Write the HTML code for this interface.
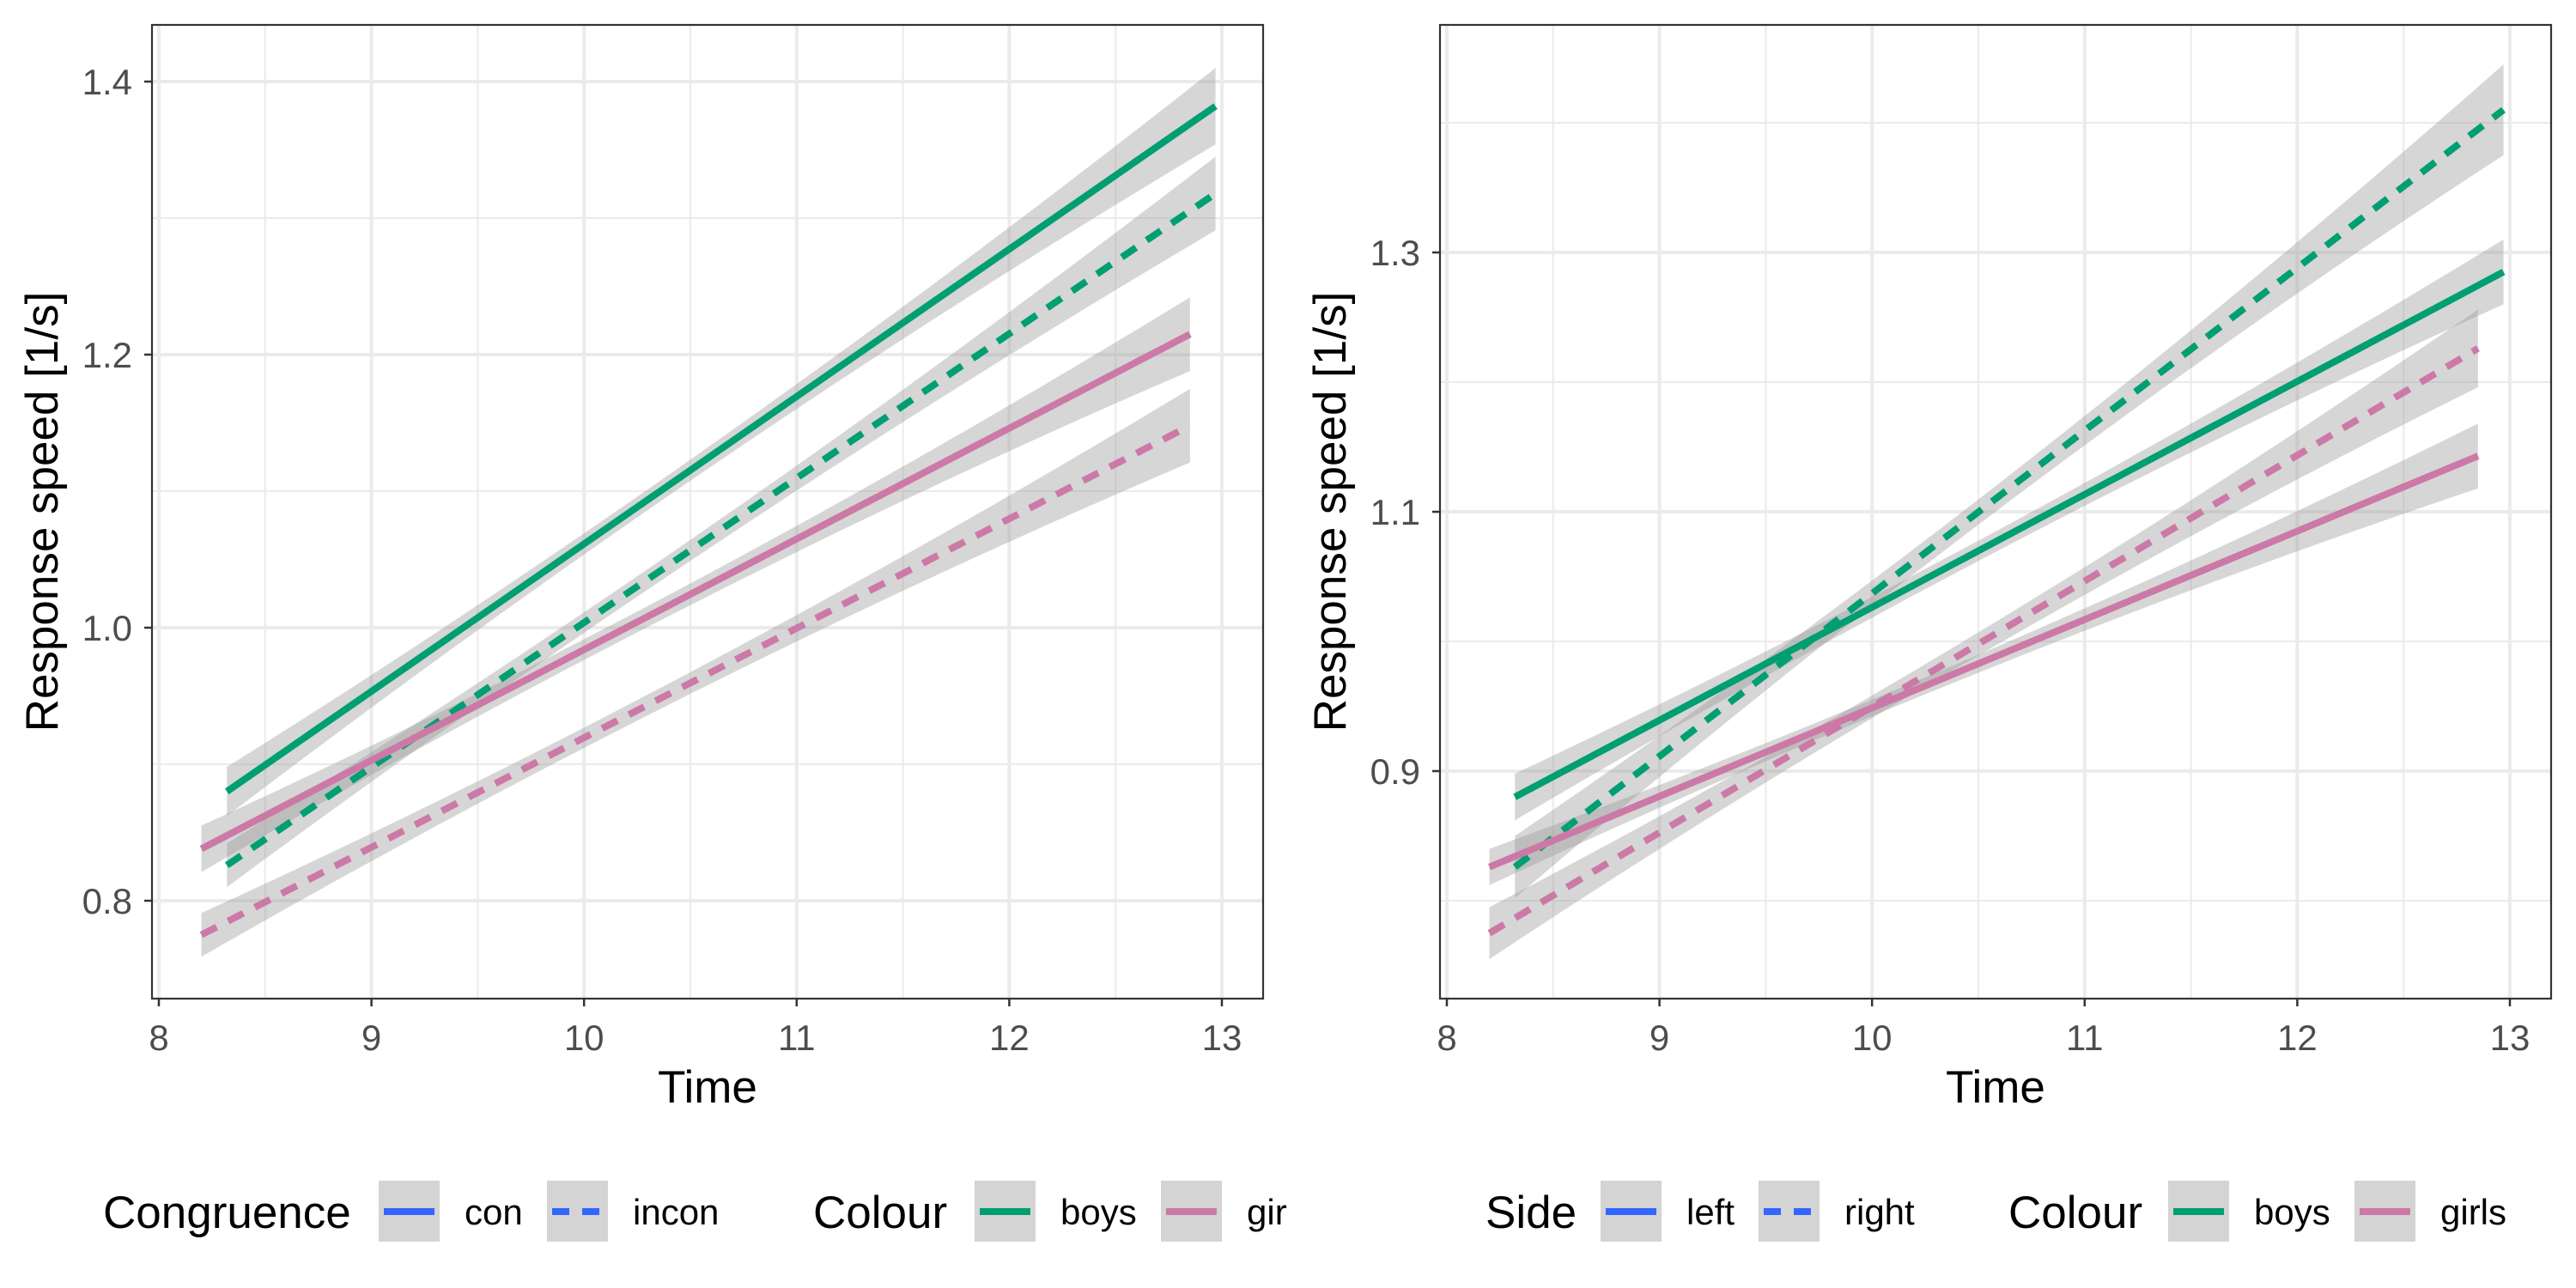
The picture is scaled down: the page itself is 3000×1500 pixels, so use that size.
<!DOCTYPE html>
<html><head><meta charset="utf-8">
<style>
html,body{margin:0;padding:0;background:#fff;}
#wrap{position:relative;width:3000px;height:1500px;overflow:hidden;font-family:"Liberation Sans",Arial,sans-serif;}
svg{position:absolute;top:0;overflow:hidden;}
</style></head>
<body>
<div id="wrap">
<svg id="p1" width="1500" height="1500" style="left:0"></svg>
<svg id="p2" width="1500" height="1500" style="left:1500px"></svg>
</div>
<script>
// ---- data: left panel (Congruence) ----
const seriesNames1 = ["boys-con","boys-incon","girls-con","girls-incon"];
const xStart1 = [8.32, 8.32, 8.2, 8.2];
const xEnd1 = [12.97, 12.97, 12.85, 12.85];
const yStart1 = [0.880, 0.826, 0.838, 0.775];
const yEnd1 = [1.382, 1.318, 1.215, 1.148];
const seStart1 = [0.018, 0.016, 0.017, 0.016];
const seMid1 = [0.008, 0.008, 0.008, 0.008];
const seEnd1 = [0.028, 0.027, 0.027, 0.027];
const yTicks1 = [0.8, 1.0, 1.2, 1.4];
const yMinor1 = [0.9, 1.1, 1.3];
// ---- data: right panel (Side) ----
const seriesNames2 = ["boys-left","boys-right","girls-left","girls-right"];
const xStart2 = [8.32, 8.32, 8.2, 8.2];
const xEnd2 = [12.97, 12.97, 12.85, 12.85];
const yStart2 = [0.880, 0.826, 0.826, 0.775];
const yEnd2 = [1.285, 1.410, 1.143, 1.226];
const seStart2 = [0.018, 0.024, 0.014, 0.020];
const seMid2 = [0.008, 0.010, 0.007, 0.009];
const seEnd2 = [0.025, 0.035, 0.025, 0.030];
const yTicks2 = [0.9, 1.1, 1.3];
const yMinor2 = [0.8, 1.0, 1.2, 1.4];
// shared
const xTicks = [8, 9, 10, 11, 12, 13];
const xMinor = [8.5, 9.5, 10.5, 11.5, 12.5];
const colourOf = ["#009E73","#009E73","#CC79A7","#CC79A7"];
const dashedOf = [false,true,false,true];

const NS="http://www.w3.org/2000/svg";
function mk(parent,tag,attrs){const e=document.createElementNS(NS,tag);for(const k in attrs)e.setAttribute(k,attrs[k]);parent.appendChild(e);return e;}

function panel(svg,cfg){
  const L=177,R=1471,T=29,B=1163;
  const sx=v=>185+(v-8)*(1423-185)/5;
  const sy=v=>cfg.y0px+(v-cfg.y0)*cfg.pxPerUnit*-1;
  const g=mk(svg,"g",{});
  
  
  cfg.yMinor.forEach(v=>{const y=sy(v);if(y>T&&y<B){const l=mk(g,"line",{x1:L,x2:R,y1:y,y2:y,stroke:"#EBEBEB","stroke-width":2});
    }});
  xMinor.forEach(v=>{const x=sx(v);const l=mk(g,"line",{x1:x,x2:x,y1:T,y2:B,stroke:"#EBEBEB","stroke-width":2});
    });
  cfg.yTicks.forEach(v=>{const y=sy(v);const l=mk(g,"line",{x1:L,x2:R,y1:y,y2:y,stroke:"#EBEBEB","stroke-width":4});
    });
  xTicks.forEach(v=>{const x=sx(v);const l=mk(g,"line",{x1:x,x2:x,y1:T,y2:B,stroke:"#EBEBEB","stroke-width":4});
    });
  for(let i=0;i<4;i++){
    const x0=cfg.xs[i],x1=cfg.xe[i],N=40;
    const se=t=>{
      const a=cfg.ss[i],b=cfg.sm[i],c=cfg.se[i];
      return a*2*(t-0.5)*(t-1)+b*-4*t*(t-1)+c*2*t*(t-0.5);};
    let up=[],lo=[];
    for(let k=0;k<=N;k++){const t=k/N;const x=x0+(x1-x0)*t;const y=cfg.ys[i]+(cfg.ye[i]-cfg.ys[i])*t;const s=Math.max(se(t),0.004);
      up.push(sx(x)+","+sy(y+s));lo.push(sx(x)+","+sy(y-s));}
    const p=mk(g,"polygon",{points:up.concat(lo.reverse()).join(" "),fill:"#999999","fill-opacity":0.4});
    
    
  }
  for(let i=0;i<4;i++){
    const a={x1:sx(cfg.xs[i]),y1:sy(cfg.ys[i]),x2:sx(cfg.xe[i]),y2:sy(cfg.ye[i]),stroke:colourOf[i],"stroke-width":8};
    if(dashedOf[i])a["stroke-dasharray"]="20,15";
    const l=mk(g,"line",a);
    
    
  }
  const br=mk(svg,"rect",{x:L,y:T,width:R-L,height:B-T,fill:"none",stroke:"#333333","stroke-width":2.2});
  
  xTicks.forEach(v=>{const x=sx(v);
    const t=mk(svg,"line",{x1:x,x2:x,y1:B,y2:B+9,stroke:"#333","stroke-width":2.5});
    
    const tx=mk(svg,"text",{x:x,y:1223,"text-anchor":"middle","font-size":42,fill:"#4D4D4D"});tx.textContent=v;
    });
  cfg.yTicks.forEach(v=>{const y=sy(v);
    const t=mk(svg,"line",{x1:L-9,x2:L,y1:y,y2:y,stroke:"#333","stroke-width":2.5});
    
    const tx=mk(svg,"text",{x:154,y:y+15,"text-anchor":"end","font-size":42,fill:"#4D4D4D"});tx.textContent=v.toFixed(1);
    });
  const xt=mk(svg,"text",{x:824,y:1284,"text-anchor":"middle","font-size":53,fill:"#000"});xt.textContent="Time";
  
  const yt=mk(svg,"text",{x:0,y:0,"text-anchor":"middle","font-size":53,fill:"#000",transform:"translate(67,596) rotate(-90)"});yt.textContent="Response speed [1/s]";
  
  const lg=mk(svg,"g",{});
  
  cfg.legend.forEach(it=>{
    if(it.type==="title"){const t=mk(lg,"text",{x:it.x,y:1430,"font-size":53,fill:"#000"});t.textContent=it.label;
      }
    else{
      const kg=mk(lg,"g",{});
      
      
      mk(kg,"rect",{x:it.x,y:1375,width:71,height:71,fill:"#D4D4D4"});
      const a={x1:it.x+6,x2:it.x+65,y1:1411,y2:1411,stroke:it.color,"stroke-width":8};
      if(it.dash)a["stroke-dasharray"]="20,15";
      mk(kg,"line",a);
      const t=mk(kg,"text",{x:it.x+100,y:1426,"font-size":42,fill:"#000"});t.textContent=it.label;
    }});
  return {sx,sy};
}
panel(document.getElementById("p1"),{names:seriesNames1,xs:xStart1,xe:xEnd1,ys:yStart1,ye:yEnd1,ss:seStart1,sm:seMid1,se:seEnd1,
  yTicks:yTicks1,yMinor:yMinor1,y0:0.8,y0px:1049,pxPerUnit:(1049-95)/0.6,
  legend:[{type:"title",x:120,label:"Congruence"},{x:441,label:"con",color:"#3366FF"},{x:637,label:"incon",color:"#3366FF",dash:true},
    {type:"title",x:947,label:"Colour"},{x:1135,label:"boys",color:"#009E73"},{x:1352,label:"girls",color:"#CC79A7"}]});
panel(document.getElementById("p2"),{names:seriesNames2,xs:xStart2,xe:xEnd2,ys:yStart2,ye:yEnd2,ss:seStart2,sm:seMid2,se:seEnd2,
  yTicks:yTicks2,yMinor:yMinor2,y0:0.9,y0px:898,pxPerUnit:(898-294)/0.4,
  legend:[{type:"title",x:230,label:"Side"},{x:364,label:"left",color:"#3366FF"},{x:548,label:"right",color:"#3366FF",dash:true},
    {type:"title",x:839,label:"Colour"},{x:1025,label:"boys",color:"#009E73"},{x:1242,label:"girls",color:"#CC79A7"}]});
</script>
</body></html>
